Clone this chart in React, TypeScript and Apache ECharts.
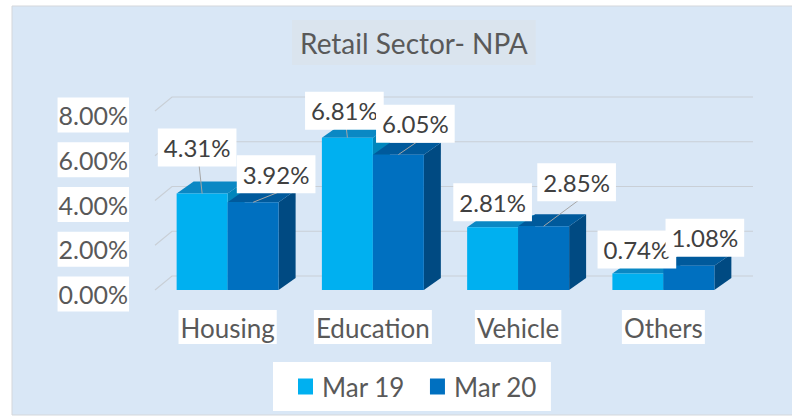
import React, { useEffect, useRef } from "react";
import * as echarts from "echarts";

const categories = ["Housing", "Education", "Vehicle", "Others"];
const seriesNames = ["Mar 19", "Mar 20"];
const mar19 = [4.31, 6.81, 2.81, 0.74];
const mar20 = [3.92, 6.05, 2.85, 1.08];
const yTicks = [0, 2, 4, 6, 8];

// label layout (offset of label centre from the bar's front-top centre)
const labelOffsets19 = [[-5, -46], [-3, -27], [0, -25], [-1, -24]];
const labelOffsets20 = [[23, -28], [17, -31], [33, -44], [16, -28]];
const leader19 = [true, true, false, false];
const leader20 = [true, true, true, false];

const DX = 17;
const DY = -12;
const WDX = 17;
const WDY = -14;
const FONT = "Lato, 'Open Sans', sans-serif";
const TEXT = "#595959";
const LABEL_TEXT = "#404040";

const colors19 = { front: "#00b0f0", top: "#0a88c4", side: "#0086bc" };
const colors20 = { front: "#0070c0", top: "#005a9c", side: "#004a82" };

function makeBarRender(sideIdx: number, colors: any, offsets: number[][], leaders: boolean[], zl: number) {
  return (params: any, api: any) => {
    const idx = api.value(0);
    const v = api.value(1);
    const top = api.coord([idx, v]);
    const base = api.coord([idx, 0]);
    const band = api.size([1, 0])[0];
    const w = band * 0.351;
    const x0 = sideIdx === 0 ? top[0] - w : top[0];
    const x1 = x0 + w;
    const yT = top[1];
    const yB = base[1];
    const children: any[] = [
      {
        type: "polygon",
        shape: { points: [[x1, yB], [x1 + DX, yB + DY], [x1 + DX, yT + DY], [x1, yT]] },
        style: { fill: colors.side },
      },
      {
        type: "polygon",
        shape: { points: [[x0, yT], [x1, yT], [x1 + DX, yT + DY], [x0 + DX, yT + DY]] },
        style: { fill: colors.top },
      },
      {
        type: "rect",
        shape: { x: x0, y: yT, width: w, height: yB - yT },
        style: { fill: colors.front },
      },
    ];
    const cx = (x0 + x1) / 2;
    const off = offsets[params.dataIndex];
    const lx = cx + off[0];
    const ly = yT + off[1];
    if (leaders[params.dataIndex]) {
      children.push({
        type: "line",
        shape: { x1: lx + 2, y1: ly + 18, x2: cx, y2: yT },
        style: { stroke: "#a6a6a6", lineWidth: 1 },
        z2: zl - 1,
      });
    }
    children.push({
      type: "text",
      x: lx,
      y: ly,
      style: {
        text: v.toFixed(2) + "%",
        fontSize: 24,
        fontFamily: FONT,
        fill: LABEL_TEXT,
        align: "center",
        verticalAlign: "middle",
        lineHeight: 29,
        backgroundColor: "#ffffff",
        padding: [5, 6, 4, 6],
      },
      z2: zl,
    });
    return { type: "group", children };
  };
}

export default function App() {
  const ref = useRef<HTMLDivElement>(null);
  useEffect(() => {
    document.body.style.margin = "0";
    const chart = echarts.init(ref.current!, null, { renderer: "svg" });
    chart.setOption({
      animation: false,
      backgroundColor: "#ffffff",
      graphic: [
        {
          type: "rect",
          z: -10,
          shape: { x: 12, y: 6, width: 781, height: 409 },
          style: { fill: "#d9e7f6", stroke: "#d4d7db", lineWidth: 1 },
          silent: true,
        },
      ],
      title: {
        text: "Retail Sector- NPA",
        left: 292,
        top: 20,
        backgroundColor: "#dae4ee",
        padding: [7, 8, 7, 8],
        textStyle: { fontSize: 28, fontFamily: FONT, color: TEXT, fontWeight: "normal", lineHeight: 31 },
      },
      legend: {
        data: seriesNames,
        left: 273,
        top: 362,
        backgroundColor: "#ffffff",
        padding: [10, 14, 10, 25],
        itemGap: 25,
        itemWidth: 15,
        itemHeight: 16,
        icon: "rect",
        textStyle: { fontSize: 26, fontFamily: FONT, color: TEXT, lineHeight: 29, padding: [0, 0, 0, 4] },
      },
      grid: [
        { left: 155, right: 56, top: 111, bottom: 129 },
        { left: 155, right: 56, top: 115, bottom: 125 },
      ],
      xAxis: [
        {
          type: "category",
          gridIndex: 0,
          data: categories,
          axisLine: { show: false },
          axisTick: { show: false },
          axisLabel: {
            interval: 0,
            fontSize: 26,
            fontFamily: FONT,
            color: TEXT,
            margin: 20,
            backgroundColor: "#ffffff",
            padding: [3, 2, 2, 2],
            lineHeight: 29,
          },
        },
        { type: "category", gridIndex: 1, data: categories, show: false },
      ],
      yAxis: [
        {
          type: "value",
          gridIndex: 0,
          min: 0,
          max: 8,
          interval: 2,
          axisLabel: { show: false },
          splitLine: { show: false },
          axisLine: { show: false },
          axisTick: { show: false },
        },
        {
          type: "value",
          gridIndex: 1,
          min: 0,
          max: 8,
          interval: 2,
          splitLine: { show: false },
          axisLine: { show: false },
          axisTick: { show: false },
          axisLabel: {
            formatter: (v: number) => v.toFixed(2) + "%",
            fontSize: 25,
            fontFamily: FONT,
            color: TEXT,
            margin: 26,
            backgroundColor: "#ffffff",
            padding: [3, 1, 3, 1],
            lineHeight: 29,
          },
        },
      ],
      series: [
        {
          type: "custom",
          name: "grid-walls",
          xAxisIndex: 0,
          yAxisIndex: 0,
          silent: true,
          z: 1,
          data: yTicks.map((v) => [0, v]),
          renderItem: (params: any, api: any) => {
            const v = api.value(1);
            const p = api.coord([0, v]);
            const cs = params.coordSys;
            const xa = cs.x;
            const xb = cs.x + cs.width;
            return {
              type: "polyline",
              shape: { points: [[xa, p[1]], [xa + WDX, p[1] + WDY], [xb + WDX, p[1] + WDY]] },
              style: { stroke: "#c9cfd6", lineWidth: 1.2, fill: null },
            };
          },
        },
        {
          type: "custom",
          name: seriesNames[0],
          xAxisIndex: 0,
          yAxisIndex: 0,
          z: 2,
          itemStyle: { color: colors19.front },
          data: mar19.map((v, i) => [i, v]),
          renderItem: makeBarRender(0, colors19, labelOffsets19, leader19, 100),
        },
        {
          type: "custom",
          name: seriesNames[1],
          xAxisIndex: 0,
          yAxisIndex: 0,
          z: 2,
          itemStyle: { color: colors20.front },
          data: mar20.map((v, i) => [i, v]),
          renderItem: makeBarRender(1, colors20, labelOffsets20, leader20, 102),
        },
      ],
    });
    return () => chart.dispose();
  }, []);
  return <div ref={ref} style={{ width: 792, height: 419 }} />;
}
